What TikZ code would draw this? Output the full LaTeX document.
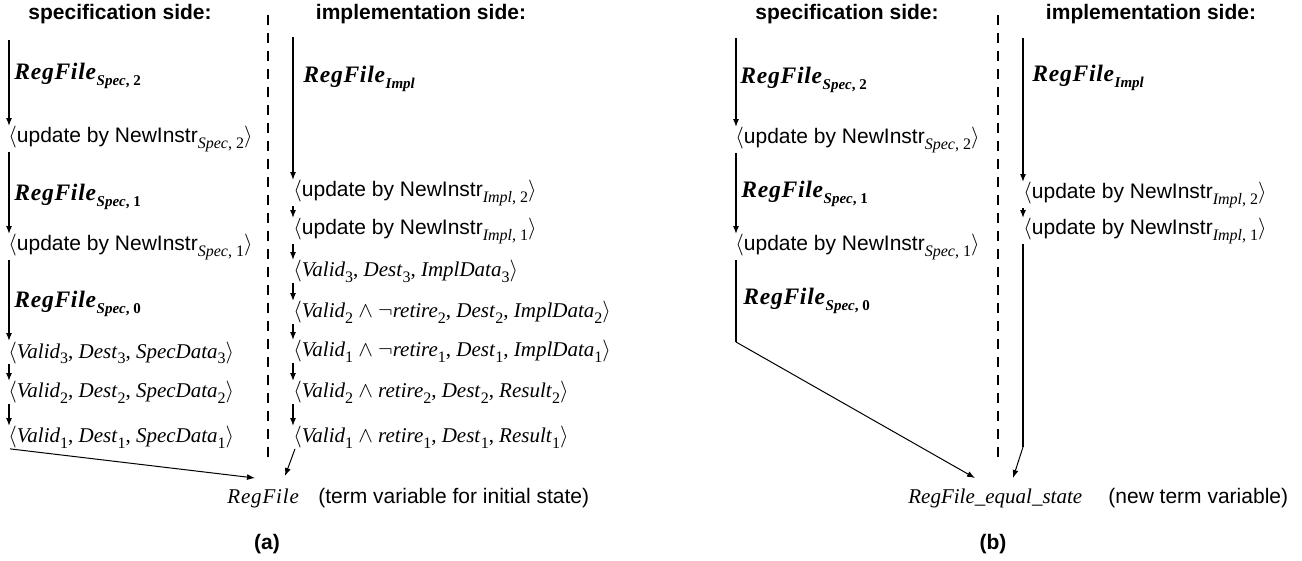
\documentclass[tikz,border=0pt]{standalone}
\usepackage{fontspec}
\usepackage{amsmath}
\setmainfont{Liberation Serif}
\setsansfont{Liberation Sans}
\usetikzlibrary{arrows.meta,calc}

\newcommand{\low}[1]{\raisebox{-2.6pt}{\fontsize{8}{9}\selectfont #1}}
\newcommand{\tup}[1]{$\langle$#1$\rangle$}
\newcommand{\upd}[2]{\tup{\textsf{update by NewInstr}\low{\textit{#1}, #2}}}
\newcommand{\rf}[1]{{\addfontfeatures{LetterSpace=3}\textit{RegFile}}\raisebox{-2.8pt}{\fontsize{7.5}{9}\selectfont #1}}

\begin{document}
\begin{tikzpicture}[x=0.5pt,y=-0.5pt,
  every node/.style={inner sep=0pt,anchor=base west,font=\fontsize{10.5}{12}\selectfont},
  head/.style={anchor=base,font=\fontsize{10.5}{12}\selectfont\sffamily\bfseries},
  sans/.style={font=\fontsize{10.5}{12}\selectfont\sffamily},
  rlab/.style={font=\fontsize{11.8}{13}\selectfont\bfseries},
  flow/.style={line width=1pt,-{Latex[length=4pt,width=3pt]}},
  feed/.style={line width=0.5pt,-{Latex[length=4pt,width=3pt]}},
  divide/.style={line width=1pt,dash pattern=on 5pt off 4pt}]
  \useasboundingbox (0,0) rectangle (1302,561);

  % (a) before the equal-state step
  \node[head] (hsA) at (120,20) {specification side:};
  \node[head] (hiA) at (421,20) {implementation side:};
  \draw[divide] (268,15) -- (268,457);

  \coordinate (sA) at (9,40);
  \node[rlab] (rsA2) at (14,80) {\rf{\textit{Spec}, 2}};
  \node (suA2) at (8,143) {\upd{Spec}{2}};
  \node[rlab] (rsA1) at (14,201) {\rf{\textit{Spec}, 1}};
  \node (suA1) at (8,251) {\upd{Spec}{1}};
  \node[rlab] (rsA0) at (14,308) {\rf{\textit{Spec}, 0}};
  \node (svA3) at (8,358) {\tup{\textit{Valid}\low{3}, \textit{Dest}\low{3}, \textit{SpecData}\low{3}}};
  \node (svA2) at (8,398) {\tup{\textit{Valid}\low{2}, \textit{Dest}\low{2}, \textit{SpecData}\low{2}}};
  \node (svA1) at (8,443) {\tup{\textit{Valid}\low{1}, \textit{Dest}\low{1}, \textit{SpecData}\low{1}}};

  \coordinate (iA) at (293,37);
  \node[rlab] (riA) at (303,83) {\rf{\textit{Impl}}};
  \node (iuA2) at (293,197) {\upd{Impl}{2}};
  \node (iuA1) at (293,235) {\upd{Impl}{1}};
  \node (ivA3) at (293,277) {\tup{\textit{Valid}\low{3}, \textit{Dest}\low{3}, \textit{ImplData}\low{3}}};
  \node (ivA2) at (293,318) {\tup{\textit{Valid}\low{2} $\wedge$ $\neg$\textit{retire}\low{2}, \textit{Dest}\low{2}, \textit{ImplData}\low{2}}};
  \node (ivA1) at (293,357) {\tup{\textit{Valid}\low{1} $\wedge$ $\neg$\textit{retire}\low{1}, \textit{Dest}\low{1}, \textit{ImplData}\low{1}}};
  \node (irA2) at (293,398) {\tup{\textit{Valid}\low{2} $\wedge$ \textit{retire}\low{2}, \textit{Dest}\low{2}, \textit{Result}\low{2}}};
  \node (irA1) at (293,443) {\tup{\textit{Valid}\low{1} $\wedge$ \textit{retire}\low{1}, \textit{Dest}\low{1}, \textit{Result}\low{1}}};

  \node (regA) at (227,503) {\addfontfeatures{LetterSpace=4}\textit{RegFile}};
  \node[sans] (noteA) at (318,503) {(term variable for initial state)};
  \node[head] (capA) at (267,549) {(a)};

  \draw[flow] (sA) -- (sA |- suA2.north);
  \foreach \a/\b in {suA2/suA1,suA1/svA3,svA3/svA2,svA2/svA1}
    \draw[flow] (sA |- \a.south) -- (sA |- \b.north);
  \draw[flow] (iA) -- (iA |- iuA2.north);
  \foreach \a/\b in {iuA2/iuA1,iuA1/ivA3,ivA3/ivA2,ivA2/ivA1,ivA1/irA2,irA2/irA1}
    \draw[flow] (iA |- \a.south) -- (iA |- \b.north);
  \draw[feed] ([xshift=1pt]svA1.south west) -- ([shift={(28,-10)}]regA.north west);
  \draw[feed] ([xshift=1pt]irA1.south west) -- ([shift={(58,-12)}]regA.north west);

  % (b) with the new term variable
  \node[head] (hsB) at (847,20) {specification side:};
  \node[head] (hiB) at (1151,20) {implementation side:};
  \draw[divide] (998,15) -- (998,458);

  \coordinate (sB) at (736,38);
  \node[rlab] (rsB2) at (740,84) {\rf{\textit{Spec}, 2}};
  \node (suB2) at (735,144) {\upd{Spec}{2}};
  \node[rlab] (rsB1) at (741,198) {\rf{\textit{Spec}, 1}};
  \node (suB1) at (735,251) {\upd{Spec}{1}};
  \node[rlab] (rsB0) at (743,305) {\rf{\textit{Spec}, 0}};
  \coordinate (cB1) at (736,342);

  \coordinate (iB) at (1023,38);
  \node[rlab] (riB) at (1032,82) {\rf{\textit{Impl}}};
  \node (iuB2) at (1023,199) {\upd{Impl}{2}};
  \node (iuB1) at (1023,235) {\upd{Impl}{1}};
  \coordinate (cB2) at (1023,447);

  \node (regB) at (908,503) {\textit{RegFile\_equal\_state}};
  \node[sans] (noteB) at (1108,503) {(new term variable)};
  \node[head] (capB) at (993,549) {(b)};

  \draw[flow] (sB) -- (sB |- suB2.north);
  \draw[flow] (sB |- suB2.south) -- (sB |- suB1.north);
  \draw[line width=1pt] (sB |- suB1.south) -- (cB1);
  \draw[feed] (cB1) -- ([shift={(67,-10)}]regB.north west);
  \draw[flow] (iB) -- (iB |- iuB2.north);
  \draw[flow] (iB |- iuB2.south) -- (iB |- iuB1.north);
  \draw[line width=1pt] (iB |- iuB1.south) -- (cB2);
  \draw[feed] (cB2) -- ([shift={(105,-10)}]regB.north west);
\end{tikzpicture}
\end{document}
